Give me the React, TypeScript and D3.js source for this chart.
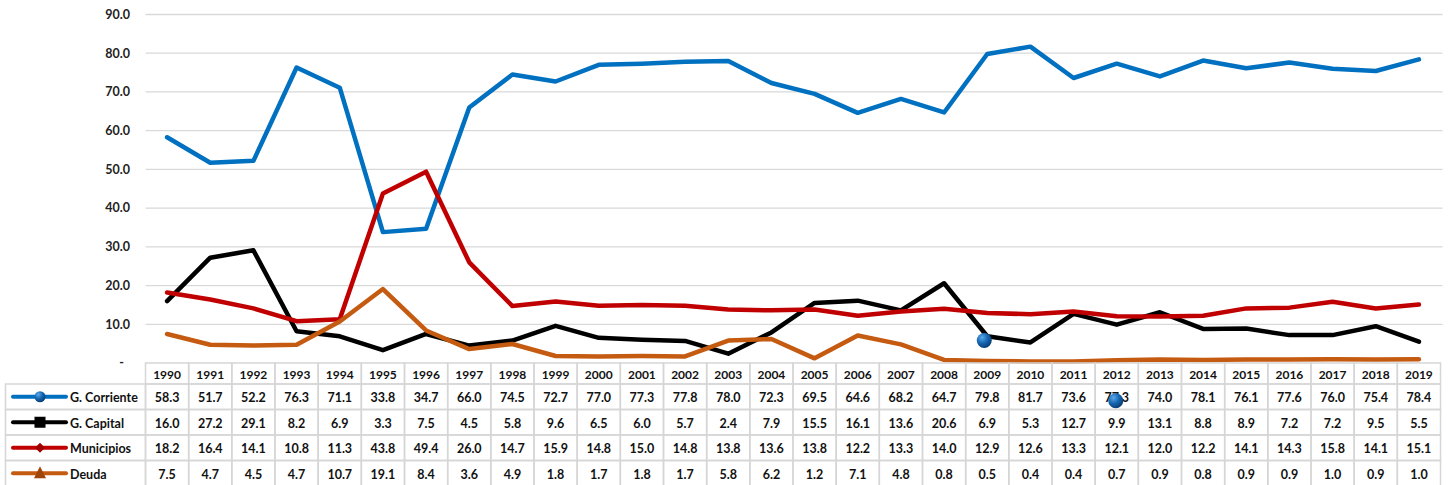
import React, { useRef, useEffect } from 'react';
import * as d3 from 'd3';

const years = ['1990', '1991', '1992', '1993', '1994', '1995', '1996', '1997', '1998', '1999', '2000', '2001', '2002', '2003', '2004', '2005', '2006', '2007', '2008', '2009', '2010', '2011', '2012', '2013', '2014', '2015', '2016', '2017', '2018', '2019'];

const gCorriente = [58.3, 51.7, 52.2, 76.3, 71.1, 33.8, 34.7, 66.0, 74.5, 72.7, 77.0, 77.3, 77.8, 78.0, 72.3, 69.5, 64.6, 68.2, 64.7, 79.8, 81.7, 73.6, 77.3, 74.0, 78.1, 76.1, 77.6, 76.0, 75.4, 78.4];
const gCapital = [16.0, 27.2, 29.1, 8.2, 6.9, 3.3, 7.5, 4.5, 5.8, 9.6, 6.5, 6.0, 5.7, 2.4, 7.9, 15.5, 16.1, 13.6, 20.6, 6.9, 5.3, 12.7, 9.9, 13.1, 8.8, 8.9, 7.2, 7.2, 9.5, 5.5];
const municipios = [18.2, 16.4, 14.1, 10.8, 11.3, 43.8, 49.4, 26.0, 14.7, 15.9, 14.8, 15.0, 14.8, 13.8, 13.6, 13.8, 12.2, 13.3, 14.0, 12.9, 12.6, 13.3, 12.1, 12.0, 12.2, 14.1, 14.3, 15.8, 14.1, 15.1];
const deuda = [7.5, 4.7, 4.5, 4.7, 10.7, 19.1, 8.4, 3.6, 4.9, 1.8, 1.7, 1.8, 1.7, 5.8, 6.2, 1.2, 7.1, 4.8, 0.8, 0.5, 0.4, 0.4, 0.7, 0.9, 0.8, 0.9, 0.9, 1.0, 0.9, 1.0];

const seriesNames = ['G. Corriente', 'G. Capital', 'Municipios', 'Deuda'];
const yTicks = [0, 10, 20, 30, 40, 50, 60, 70, 80, 90];

// loose blue markers left over in the picture
const strayPlot = [{ year: '2009', value: 5.8 }];
const strayTable = [{ year: '2012', row: 0 }];

function App() {
  const ref = useRef(null);

  useEffect(() => {
    const node = ref.current;
    node.querySelectorAll('*').forEach(n => n.remove());
    const svg = d3.select(node);

    const left = 145.5, right = 1440.5;
    const plotTop = 14.5, plotBottom = 363;
    const headerH = 21, rowH = 25.5;
    const font = 'Lato, "Open Sans", sans-serif';

    const series = [
      { name: seriesNames[0], values: gCorriente, color: '#0070C0', marker: 'sphere' },
      { name: seriesNames[1], values: gCapital, color: '#000000', marker: 'square' },
      { name: seriesNames[2], values: municipios, color: '#C00000', marker: 'diamond' },
      { name: seriesNames[3], values: deuda, color: '#C55A11', marker: 'triangle' },
    ];

    const x = d3.scaleBand().domain(years).range([left, right]);
    const cx = d => x(d) + x.bandwidth() / 2;
    const y = d3.scaleLinear().domain([0, 90]).range([plotBottom, plotTop]);

    const defs = svg.append('defs');
    const grad = defs.append('radialGradient').attr('id', 'sphere').attr('cx', '35%').attr('cy', '30%').attr('r', '70%');
    grad.append('stop').attr('offset', '0%').attr('stop-color', '#5aa9ea');
    grad.append('stop').attr('offset', '55%').attr('stop-color', '#1565b0');
    grad.append('stop').attr('offset', '100%').attr('stop-color', '#0b3f78');

    // gridlines
    svg.append('g')
      .selectAll('line')
      .data(yTicks.filter(t => t > 0))
      .join('line')
      .attr('x1', left).attr('x2', right + 2)
      .attr('y1', d => y(d)).attr('y2', d => y(d))
      .attr('stroke', '#d9d9d9').attr('stroke-width', 1.3);

    // y labels
    svg.append('g')
      .selectAll('text')
      .data(yTicks)
      .join('text')
      .attr('x', d => d === 0 ? 124 : 130)
      .attr('y', d => y(d))
      .attr('dy', '0.35em')
      .attr('text-anchor', 'end')
      .attr('font-family', font)
      .attr('font-weight', 700)
      .attr('font-size', 12.5)
      .attr('fill', '#222')
      .text(d => d === 0 ? '-' : d.toFixed(1));

    // lines
    const line = d3.line().x((d, i) => cx(years[i])).y(d => y(d));
    svg.append('g')
      .selectAll('path')
      .data(series)
      .join('path')
      .attr('d', d => line(d.values))
      .attr('fill', 'none')
      .attr('stroke', d => d.color)
      .attr('stroke-width', 4.5)
      .attr('stroke-linejoin', 'round')
      .attr('stroke-linecap', 'round');

    // table
    const tableTop = plotBottom;
    const rowTop = i => tableTop + headerH + i * rowH;
    const tbl = svg.append('g');
    const gridColor = '#d6d6d6';

    // header cells
    tbl.selectAll('rect.h')
      .data(years)
      .join('rect')
      .attr('class', 'h')
      .attr('x', d => x(d)).attr('y', tableTop)
      .attr('width', x.bandwidth()).attr('height', headerH)
      .attr('fill', 'none').attr('stroke', gridColor).attr('stroke-width', 1.5);
    tbl.selectAll('text.h')
      .data(years)
      .join('text')
      .attr('class', 'h')
      .attr('x', d => cx(d)).attr('y', tableTop + headerH / 2 + 1)
      .attr('dy', '0.35em')
      .attr('text-anchor', 'middle')
      .attr('font-family', font).attr('font-weight', 700).attr('font-size', 12)
      .attr('fill', '#111')
      .text(d => d);

    series.forEach((s, si) => {
      const ry = rowTop(si);
      const g = tbl.append('g');
      g.append('rect')
        .attr('x', 5.5).attr('y', ry)
        .attr('width', left - 5.5).attr('height', rowH)
        .attr('fill', 'none').attr('stroke', gridColor).attr('stroke-width', 1.5);
      g.selectAll('rect.c')
        .data(years)
        .join('rect')
        .attr('class', 'c')
        .attr('x', d => x(d)).attr('y', ry)
        .attr('width', x.bandwidth()).attr('height', rowH)
        .attr('fill', 'none').attr('stroke', gridColor).attr('stroke-width', 1.5);
      g.selectAll('text.c')
        .data(s.values)
        .join('text')
        .attr('class', 'c')
        .attr('x', (d, i) => cx(years[i])).attr('y', ry + rowH / 2 + 1)
        .attr('dy', '0.35em')
        .attr('text-anchor', 'middle')
        .attr('font-family', font).attr('font-weight', 700).attr('font-size', 12.5)
        .attr('fill', '#111')
        .text(d => d.toFixed(1));

      // legend key
      const my = ry + rowH / 2;
      g.append('line')
        .attr('x1', 13).attr('x2', 66).attr('y1', my).attr('y2', my)
        .attr('stroke', s.color).attr('stroke-width', 4).attr('stroke-linecap', 'round');
      const mx = 40;
      if (s.marker === 'sphere') {
        g.append('circle').attr('cx', mx).attr('cy', my).attr('r', 5.5).attr('fill', 'url(#sphere)');
      } else if (s.marker === 'square') {
        g.append('rect').attr('x', mx - 5.5).attr('y', my - 5.5).attr('width', 11).attr('height', 11).attr('fill', '#000');
      } else if (s.marker === 'diamond') {
        g.append('path').attr('d', `M${mx},${my - 5}L${mx + 5},${my}L${mx},${my + 5}L${mx - 5},${my}Z`).attr('fill', '#a00000');
      } else {
        g.append('path').attr('d', `M${mx},${my - 7}L${mx + 6},${my + 5}L${mx - 6},${my + 5}Z`).attr('fill', '#a0460d');
      }
      g.append('text')
        .attr('x', 70).attr('y', my + 1)
        .attr('dy', '0.35em')
        .attr('font-family', font).attr('font-weight', 700).attr('font-size', 12.5)
        .attr('fill', '#111')
        .text(s.name);
    });

    // stray sphere markers
    svg.append('g')
      .selectAll('circle')
      .data(strayPlot)
      .join('circle')
      .attr('cx', d => cx(d.year) - 3)
      .attr('cy', d => y(d.value))
      .attr('r', 7.5)
      .attr('fill', 'url(#sphere)');
    svg.append('g')
      .selectAll('circle')
      .data(strayTable)
      .join('circle')
      .attr('cx', d => cx(d.year) - 1)
      .attr('cy', d => rowTop(d.row) + rowH / 2 + 4)
      .attr('r', 7.5)
      .attr('fill', 'url(#sphere)');
  }, []);

  return (
    <svg width={1452} height={485} ref={ref} style={{ position: 'absolute', left: 0, top: 0, background: '#fff' }}></svg>
  );
}

export default App;
